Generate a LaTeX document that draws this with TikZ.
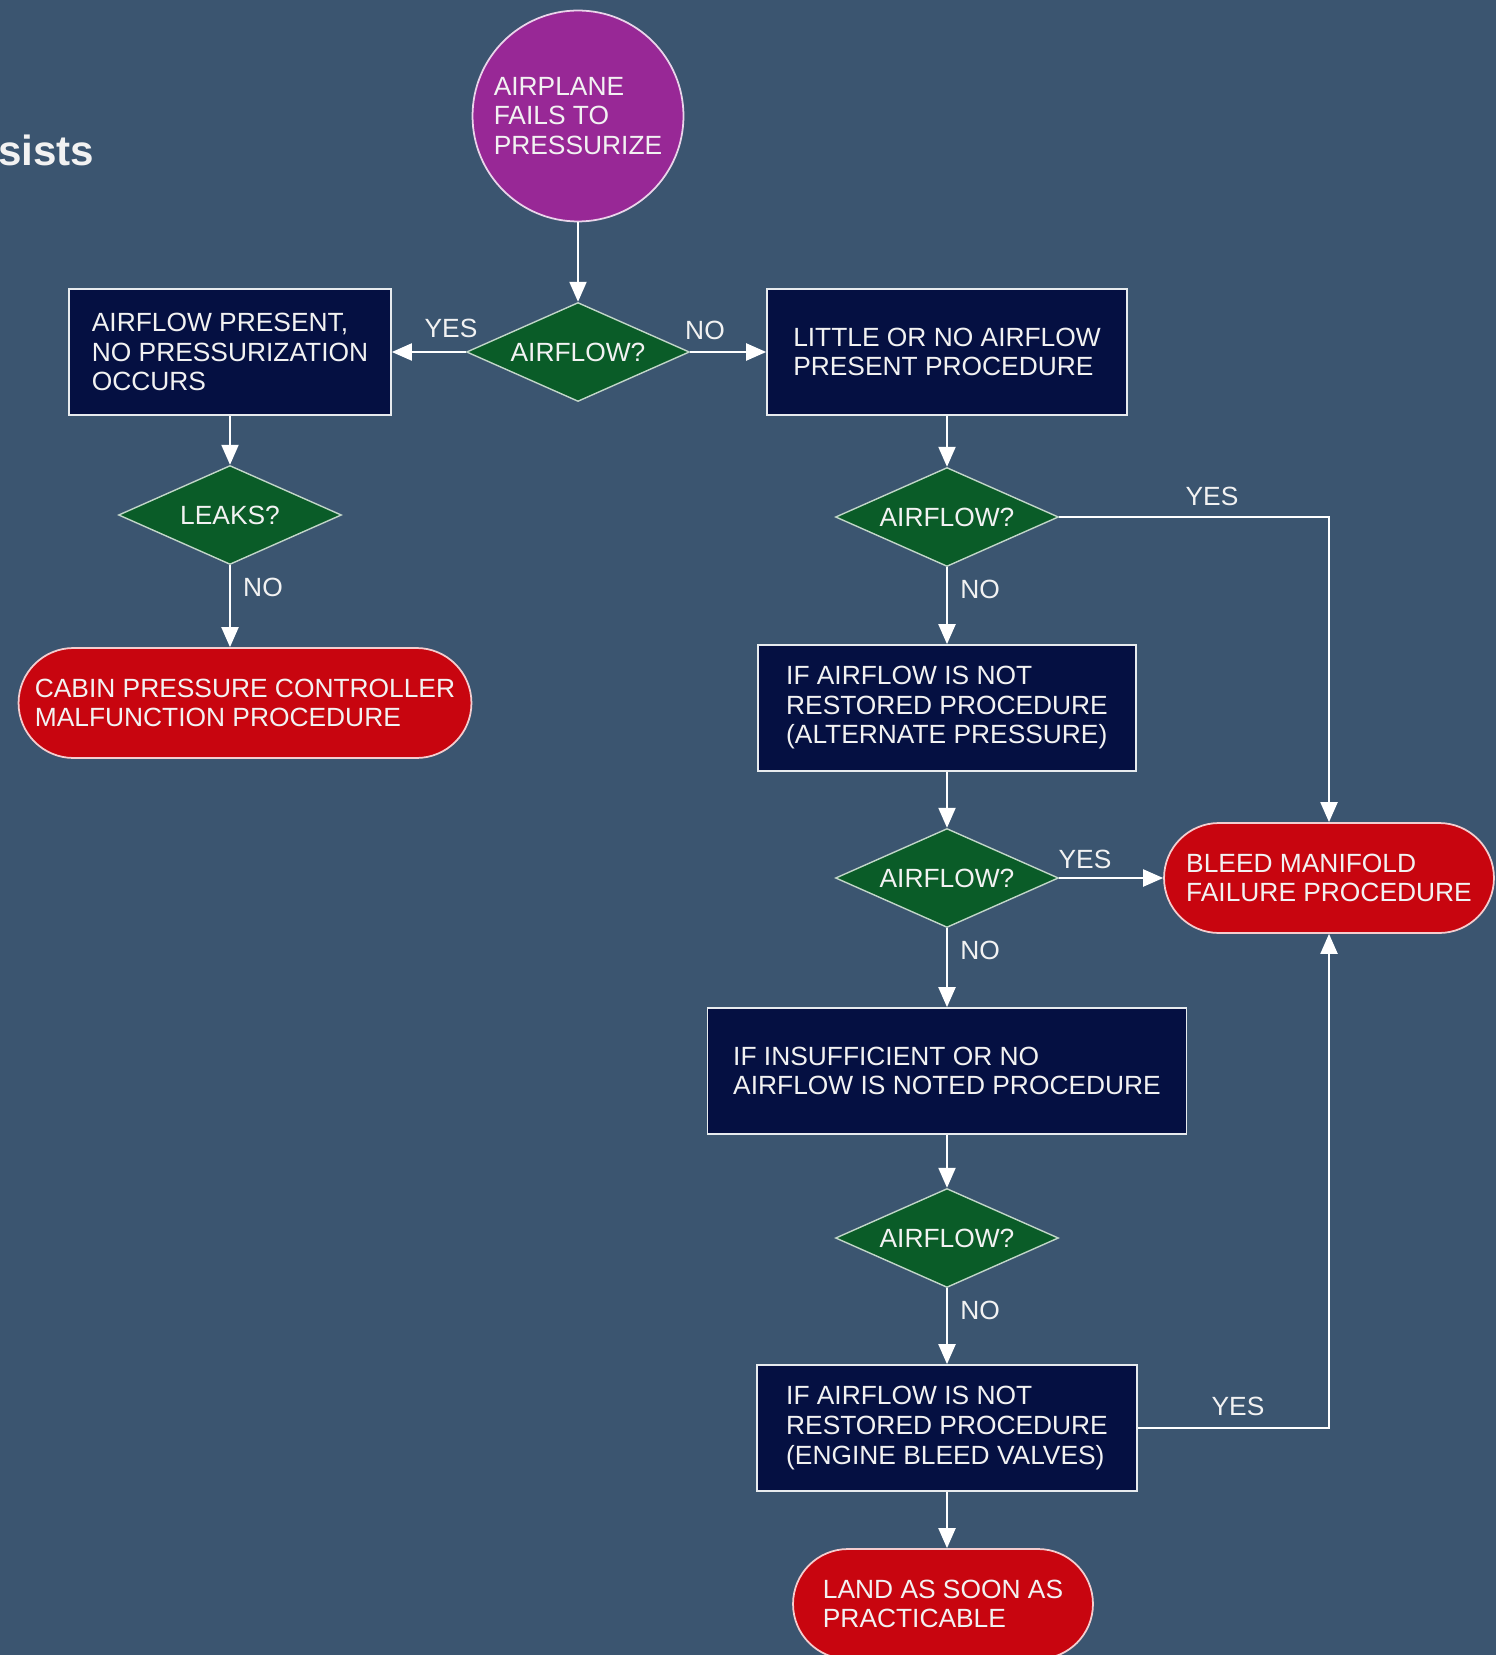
\documentclass[tikz,border=0pt]{standalone}
\usepackage{fontspec}
\setmainfont{Liberation Sans}
\usetikzlibrary{shapes.geometric,arrows.meta}
\definecolor{bg}{RGB}{59,85,112}
\definecolor{navy}{RGB}{5,16,66}
\definecolor{dgreen}{RGB}{10,92,40}
\definecolor{redterm}{RGB}{200,5,15}
\definecolor{purp}{RGB}{152,40,150}
\definecolor{txt}{RGB}{242,242,242}
\begin{document}
\begin{tikzpicture}[x=0.02cm,y=-0.02cm,
  every node/.style={font=\fontsize{15}{16.8}\selectfont, text=txt},
  procbox/.style={rectangle, draw=white!88!bg, line width=1pt, fill=navy, align=left, inner sep=0pt, minimum height=2.52cm},
  decide/.style={diamond, draw=white!75!dgreen, line width=0.8pt, fill=dgreen, inner sep=0pt, aspect=2.24, minimum width=4.46cm, minimum height=1.98cm},
  term/.style={rectangle, rounded corners=1.1cm, draw=white!80!redterm, line width=1pt, fill=redterm, align=left, inner sep=0pt, minimum height=2.2cm},
  startnode/.style={circle, draw=white!80!purp, line width=1pt, fill=purp, align=left, inner sep=0pt, minimum size=4.22cm},
  lbl/.style={inner sep=0pt},
  conn/.style={draw=white, line width=1.2pt, -{Triangle[length=0.4cm,width=0.34cm]}}
]
\useasboundingbox (0,0) rectangle (1496,1655);
\clip (0,0) rectangle (1496,1655);
\fill[bg] (0,0) rectangle (1496,1655);

\node[anchor=base west, font=\fontsize{24}{28}\selectfont\bfseries] (title) at (-8,166) {sists};

\node[startnode] (circ) at (578,116) {AIRPLANE\\FAILS TO\\PRESSURIZE};
\node[decide] (d1) at (578,352) {AIRFLOW?};
\node[procbox, minimum width=6.44cm] (bleft) at (230,352) {AIRFLOW PRESENT,\\NO PRESSURIZATION\\OCCURS};
\node[procbox, minimum width=7.2cm] (bright) at (947,352) {LITTLE OR NO AIRFLOW\\PRESENT PROCEDURE};
\node[decide] (leaks) at (230,515) {LEAKS?};
\node[term, minimum width=9.06cm] (cabin) at (245,703) {CABIN PRESSURE CONTROLLER\\MALFUNCTION PROCEDURE};
\node[decide] (d2) at (947,517) {AIRFLOW?};
\node[procbox, minimum width=7.56cm] (alt) at (947,708) {IF AIRFLOW IS NOT\\RESTORED PROCEDURE\\(ALTERNATE PRESSURE)};
\node[decide] (d3) at (947,878) {AIRFLOW?};
\node[term, minimum width=6.6cm] (bleed) at (1329,878) {BLEED MANIFOLD\\FAILURE PROCEDURE};
\node[procbox, minimum width=9.58cm] (insuf) at (947,1071) {IF INSUFFICIENT OR NO\\AIRFLOW IS NOTED PROCEDURE};
\node[decide] (d4) at (947,1238) {AIRFLOW?};
\node[procbox, minimum width=7.6cm] (engine) at (947,1428) {IF AIRFLOW IS NOT\\RESTORED PROCEDURE\\(ENGINE BLEED VALVES)};
\node[term, minimum width=6.0cm] (land) at (943,1604) {LAND AS SOON AS\\PRACTICABLE};

\draw[conn] (circ) -- (d1);
\draw[conn] (d1) -- (bleft);
\draw[conn] (d1) -- (bright);
\draw[conn] (bleft) -- (leaks);
\draw[conn] (leaks.south) -- (leaks.south |- cabin.north);
\draw[conn] (bright) -- (d2);
\draw[conn] (d2) -- (alt);
\draw[conn] (alt) -- (d3);
\draw[conn] (d3) -- (insuf);
\draw[conn] (insuf) -- (d4);
\draw[conn] (d4) -- (engine);
\draw[conn] (engine.south) -- (engine.south |- land.north);
\draw[conn] (d2.east) -| (bleed.north);
\draw[conn] (d3) -- (bleed);
\draw[conn] (engine.east) -| (bleed.south);

\node[lbl] (l1) at (451,328) {YES};
\node[lbl] (l2) at (705,330) {NO};
\node[lbl] (l3) at (263,587) {NO};
\node[lbl] (l4) at (1212,496) {YES};
\node[lbl] (l5) at (980,589) {NO};
\node[lbl] (l6) at (1085,859) {YES};
\node[lbl] (l7) at (980,950) {NO};
\node[lbl] (l8) at (980,1310) {NO};
\node[lbl] (l9) at (1238,1406) {YES};
\end{tikzpicture}
\end{document}
